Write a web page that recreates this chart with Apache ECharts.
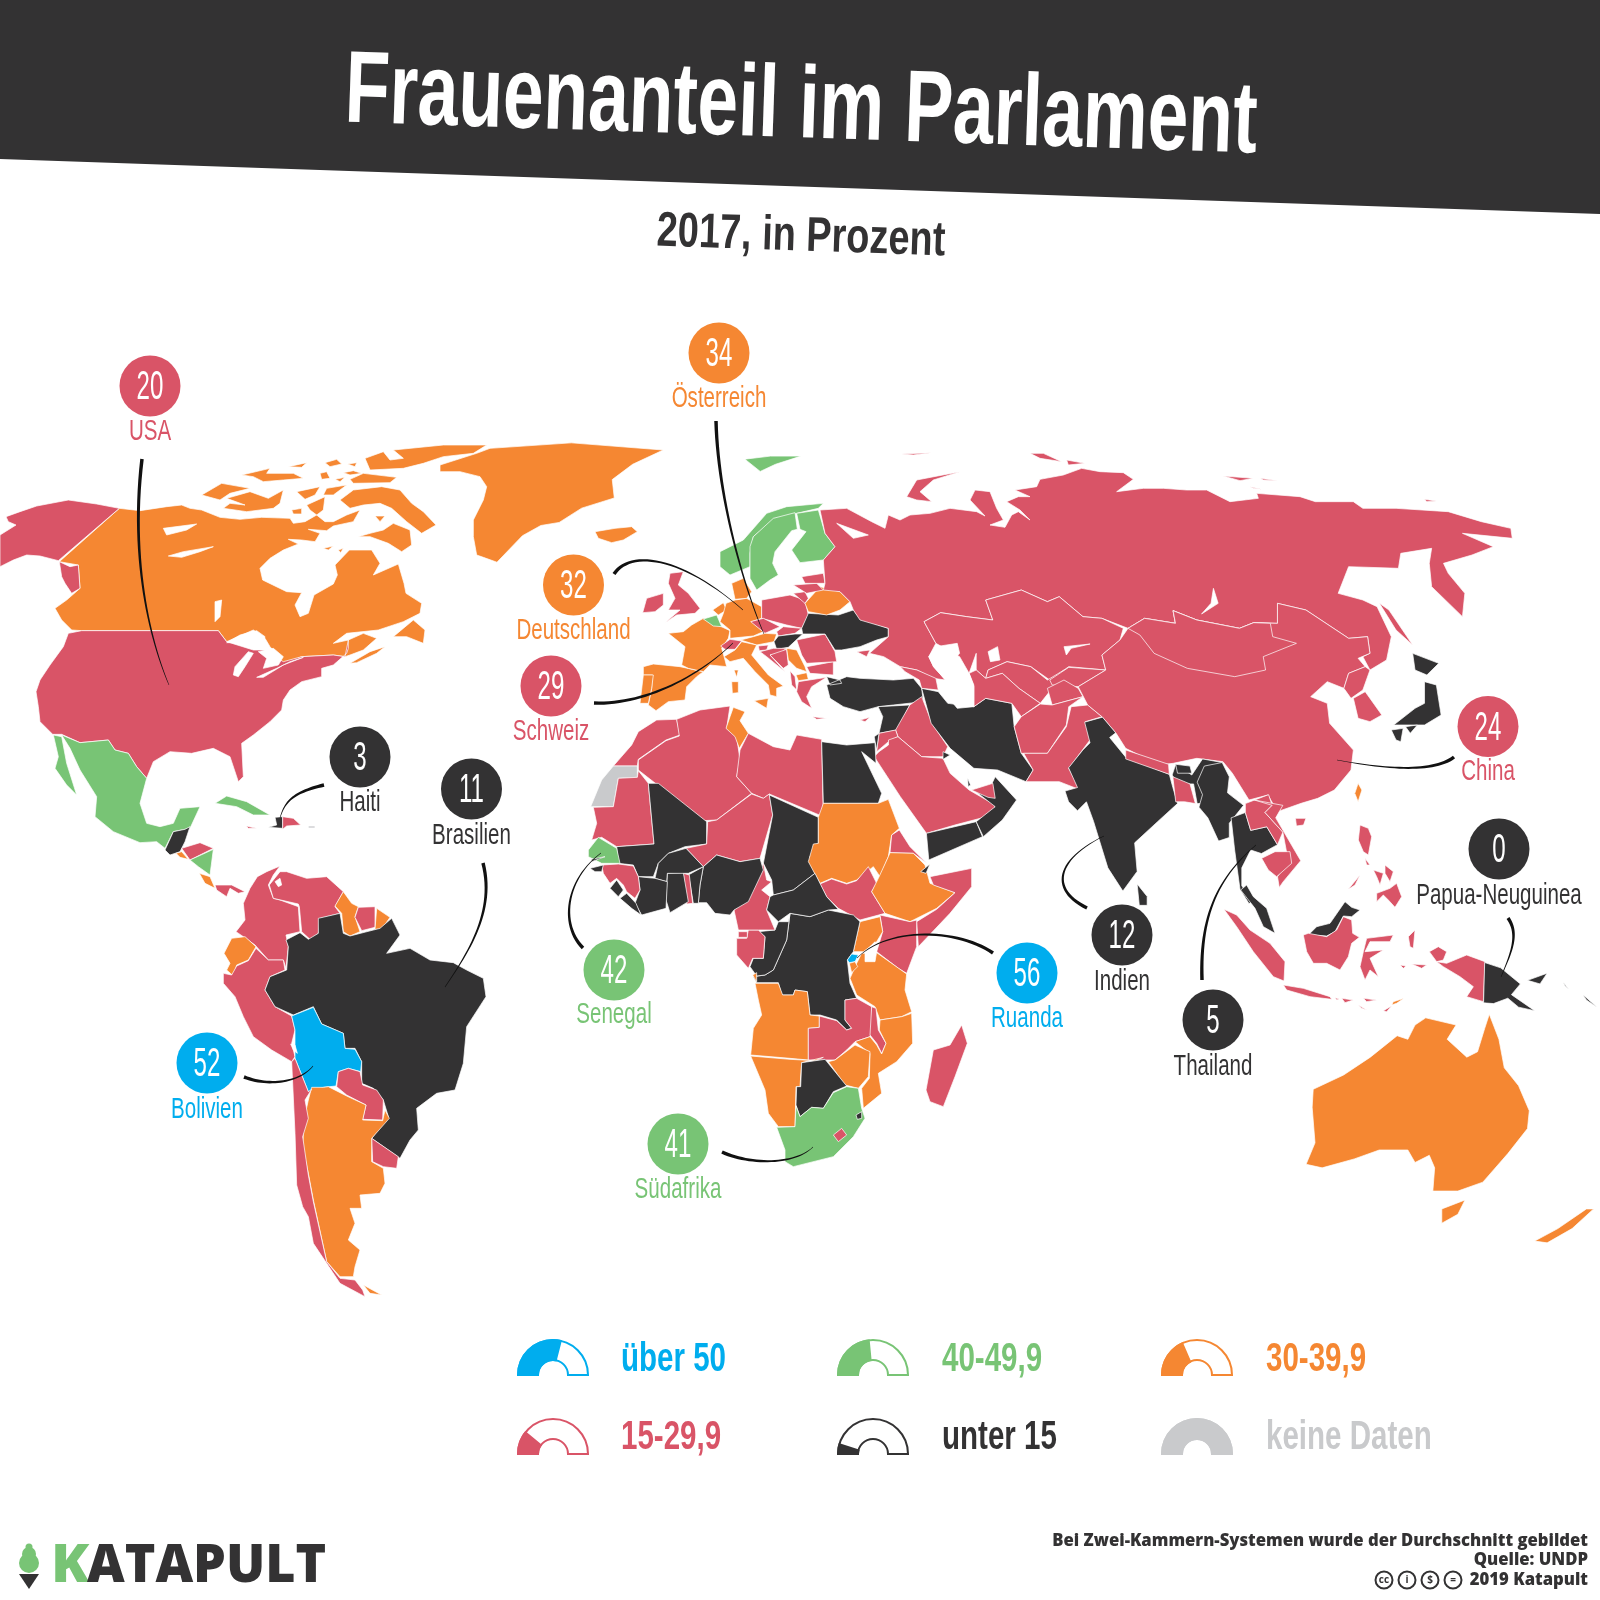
<!DOCTYPE html>
<html>
<head>
<meta charset="utf-8">
<title>Frauenanteil im Parlament</title>
<script src="https://cdn.jsdelivr.net/npm/echarts@6/dist/echarts.min.js"></script>
<style>
html, body { margin: 0; padding: 0; background: #fff; overflow: hidden; }
#main { width: 1600px; height: 1600px; }
</style>
</head>
<body>
<div id="main"></div>
<script>
// women in parliament, one value per country (estimated inside the colour band where no number is printed)
var countryNames = ['Canada','USA','Greenland','Iceland','Mexico','Guatemala','Honduras','El Salvador','Nicaragua','Costa Rica','Panama','Cuba','Haiti','Dominican Rep.','Jamaica','Puerto Rico',
    'Colombia','Venezuela','Guyana','Suriname','French Guiana','Ecuador','Peru','Brazil','Bolivia','Paraguay','Uruguay','Argentina','Chile',
    'Spain','Portugal','France','UK','Ireland','Belgium','Netherlands','Germany','Denmark','Poland','Czechia','Slovakia','Austria','Switzerland','Italy','Hungary','Slovenia','Croatia','Bosnia','Serbia','Macedonia','Albania','Bulgaria','Romania','Moldova','Greece','Ukraine','Belarus','Lithuania','Latvia','Estonia','Norway','Sweden','Finland'];
var countryValues = [35,20,37,38,42,13,26,32,46,36,18,49,3,24,17,-1,
    19,22,32,26,39,38,28,11,52,16,20,39,16,
    39,35,39,29,22,40,36,32,37,28,20,20,34,29,31,10,20,18,21,34,38,28,24,21,23,18,12,35,21,18,27,41,44,42];
var countryNames2 = ['Russia','Turkey','Syria','Iraq','Jordan','Israel','Iran','Saudi Arabia','Yemen','Oman','UAE','Qatar','Kuwait','Cyprus','Caucasus','Kazakhstan','Uzbekistan','Turkmenistan','Kyrgyzstan','Tajikistan','Afghanistan','Pakistan','India','Nepal','Bangladesh','Bhutan','Sri Lanka','China','Mongolia','North Korea','South Korea','Japan','Taiwan','Myanmar','Thailand','Laos','Vietnam','Cambodia','Malaysia','Indonesia','Timor-Leste','Philippines','PNG','Solomon Islands','Australia','New Zealand'];
var countryValues2 = [16,14,13,25,15,0,6,20,0,1,23,0,2,18,19,27,16,25,19,19,28,20,12,29,20,8,5,24,17,16,17,9,38,10,5,28,27,20,10,20,38,29,0,2,33,38];
var countryNames3 = ['Morocco','Western Sahara','Algeria','Tunisia','Libya','Egypt','Mauritania','Mali','Niger','Chad','Sudan','South Sudan','Eritrea','Ethiopia','Djibouti','Somalia','Kenya','Uganda','Rwanda','Burundi','Tanzania','DR Congo','Congo','Gabon','Eq. Guinea','Cameroon','Nigeria','Benin','Togo','Ghana','Burkina Faso','Ivory Coast','Sierra Leone','Liberia','Guinea','Guinea-Bissau','Senegal','Gambia','CAR','Angola','Zambia','Malawi','Mozambique','Zimbabwe','Namibia','Botswana','South Africa','Swaziland','Lesotho','Madagascar'];
var countryValues3 = [18,-1,26,31,16,2,25,9,17,13,31,28,22,38,13,24,20,34,56,36,36,9,11,16,18,27,6,7,17,13,9,9,12,11,22,14,42,9,9,37,18,17,39,32,37,10,41,6,25,20];

// numbered callouts
var calloutNames = ['USA','Österreich','Deutschland','Schweiz','Haiti','Brasilien','Bolivien','Senegal','Ruanda','Südafrika','Indien','Thailand','Papua-Neuguinea','China'];
var calloutValues = [20,34,32,29,3,11,52,42,56,41,12,5,0,24];

// legend
var legendLabels = ['über 50','40-49,9','30-39,9','15-29,9','unter 15','keine Daten'];
var legendShares = [0.58,0.47,0.37,0.22,0.1,1];

var footerLines = ['Bei Zwei-Kammern-Systemen wurde der Durchschnitt gebildet','Quelle: UNDP','2019 Katapult'];

var BLUE = '#00adee', GREEN = '#78c475', ORANGE = '#f58732', RED = '#d95467', DARK = '#333233', GREY = '#c9cacc';
var legendColors = [BLUE, GREEN, ORANGE, RED, DARK, GREY];
var NARROW = '"Liberation Sans", sans-serif';

function bandColor(v) {
    if (v < 0) return GREY;
    if (v >= 50) return BLUE;
    if (v >= 40) return GREEN;
    if (v >= 30) return ORANGE;
    if (v >= 15) return RED;
    return DARK;
}

var A = [0,420,3,3], B = [180,800,3,3], C = [560,480,3,3], D = [560,700,3,3], E = [860,440,2.108,3], F = [1040,700,2.8,2.8], I = [0,0,0.98,0.98];
var G = [190,440,3,3], H = [620,560,3,3], J = [900,440,3,3], K = [1220,820,3,3];
function t(f, pts) {
    return pts.map(function (p) { return [f[0] + p[0] / f[2], f[1] + p[1] / f[3]]; });
}

var outlines = {
    'Canada': [t(A,[[358,265],[420,272],[500,260],[545,255]]).concat(
            t(G,[[0,205],[35,210],[90,232],[150,238],[215,232],[300,235],[310,250],[345,245],[380,225],[405,245],[430,245],[470,225],[510,210],[490,245],[430,258],[410,272],[355,268],[390,280],[375,305],[335,300],[295,298],[325,312],[280,330],[240,355],[210,385],[218,420],[290,455],[335,458],[315,495],[330,530],[355,520],[372,465],[430,432],[442,405],[435,375],[478,330],[545,330],[570,370],[550,405],[625,372],[642,430],[648,460],[695,490],[690,520],[640,545],[565,570]]),
            t(A,[[1040,640],[1000,670],[1045,660],[1090,640],[1130,655],[1090,690],[1050,705],[1035,710],[1000,705],[905,710],[845,735],[780,772],[840,715],[810,680],[795,655],[760,630],[680,665],[655,632],[245,632],[215,630],[185,600],[165,565],[200,540],[240,505],[235,435],[178,425]])),
        t(G,[[35,165],[95,130],[180,145],[120,160],[90,180]]),
        t(G,[[100,205],[120,190],[165,195],[110,175],[180,155],[235,175],[280,150],[270,190],[250,205],[170,215]]),
        t(G,[[305,210],[335,205],[335,222],[310,222]]),
        t(G,[[320,155],[390,140],[375,165],[345,178]]),
        t(G,[[350,195],[405,170],[400,210],[380,225],[360,210]]),
        t(G,[[450,180],[490,150],[575,140],[630,150],[665,190],[700,215],[738,255],[695,280],[650,245],[605,205],[570,190],[520,195],[480,205]]),
        t(G,[[505,290],[540,280],[580,270],[610,250],[660,270],[665,315],[635,335],[595,310],[540,290]]),
        t(G,[[400,325],[430,318],[415,330]]), t(G,[[445,330],[460,325],[452,338]]), t(G,[[555,228],[585,228],[570,245]]),
        t(G,[[155,105],[240,85],[230,100],[310,100],[340,115],[280,120],[220,125],[190,110]]),
        t(G,[[295,80],[350,68],[335,82]]), t(G,[[405,68],[440,58],[455,72],[420,80]]), t(G,[[390,100],[410,95],[420,115],[395,118]]),
        t(G,[[435,118],[465,112],[450,125]]), t(G,[[460,98],[490,92],[515,100],[480,105]]), t(G,[[480,118],[520,100],[620,112],[600,128],[490,130]]),
        t(G,[[473,72],[500,68],[495,80]]), t(G,[[410,145],[470,135],[430,165],[400,165]]),
        t(G,[[525,55],[580,35],[600,60],[640,55],[610,30],[760,15],[890,15],[850,40],[760,50],[700,70],[640,85],[540,90]]),
        t(A,[[1180,650],[1240,600],[1275,630],[1270,670],[1220,650]]),
        t(A,[[1050,730],[1110,695],[1155,680],[1130,700],[1070,728]])],
    'USA': [t(A,[[18,290],[60,275],[110,258],[205,240],[290,252],[358,265],[175,422],[120,408],[80,405],[40,420],[0,440],[0,345],[48,315],[25,305]]),
        t(A,[[178,425],[210,440],[235,435],[240,505],[215,520],[195,490],[185,470]]),
        t(A,[[245,632],[655,632],[680,665],[760,690],[790,690],[850,725],[905,710],[1000,705],[1035,710],[1045,660],[1045,685],[1040,700],[1000,735],[965,745],[965,770],[905,785],[870,810],[850,840],[845,870],[810,905],[760,945],[725,970],[730,1070],[715,1085],[690,1010],[640,985],[575,1000],[510,995],[460,1025],[440,1075],[410,1040],[385,1000],[345,990],[325,960],[240,968],[185,943],[158,943],[120,905],[115,860],[108,815],[120,780],[150,735],[190,680],[205,640]])],
    'Greenland': [t(G,[[750,75],[860,40],[900,25]]).concat(
            t(I,[[560,434],[650,441],[620,455],[600,470],[602,488],[570,498],[548,512],[530,515],[512,525],[487,551]]),
            t(G,[[880,352],[860,345],[850,290],[850,240],[880,180],[890,140],[870,110],[810,95],[750,95]]))],
    'Iceland': [t(C,[[105,155],[135,150],[165,145],[215,140],[232,155],[190,180],[155,188],[115,175]])],
    'Mexico': [t(A,[[160,945],[185,950],[200,1030],[230,1125],[200,1095],[165,1045],[175,1010]]),
        t(A,[[185,945],[240,968],[325,960],[345,990],[385,1000],[410,1040],[440,1075],[420,1150],[440,1210],[480,1220],[520,1210],[540,1165],[600,1160],[570,1225],[520,1235],[495,1285],[470,1265],[420,1268],[340,1235],[285,1190],[290,1130],[240,1050],[210,985]])],
    'Guatemala': [t(A,[[520,1235],[555,1228],[570,1220],[555,1265],[540,1295],[510,1305],[495,1290]])],
    'Honduras': [t(A,[[545,1285],[600,1268],[640,1285],[570,1320]])],
    'El Salvador': [t(A,[[528,1300],[545,1295],[565,1318],[540,1312]])],
    'Nicaragua': [t(A,[[570,1320],[640,1288],[630,1365],[595,1340]])],
    'Costa Rica': [t(A,[[598,1360],[630,1370],[645,1405],[615,1390]])],
    'Panama': [t(A,[[645,1395],[695,1395],[735,1415],[715,1420],[690,1405],[680,1430],[650,1410]])],
    'Cuba': [t(A,[[645,1150],[680,1128],[740,1145],[810,1185],[760,1185],[710,1160]])],
    'Haiti': [t(A,[[825,1192],[848,1190],[848,1225],[805,1222],[830,1215]])],
    'Dominican Rep.': [t(A,[[848,1190],[880,1195],[902,1215],[860,1218],[848,1228]])],
    'Jamaica': [t(A,[[738,1218],[770,1225],[745,1225]])],
    'Puerto Rico': [t(A,[[925,1218],[945,1218],[945,1224],[925,1224]])],

    'Colombia': [t(B,[[300,198],[260,215],[232,230],[210,265],[190,310],[195,360],[168,395],[190,410],[225,435],[265,480],[310,480],[318,505],[325,440],[318,405],[360,395],[355,320],[300,300],[280,295],[265,255],[280,225]])],
    'Venezuela': [t(B,[[300,215],[320,215],[380,235],[440,230],[490,275],[465,320],[480,340],[420,355],[415,400],[390,418],[365,395],[358,320],[355,312],[280,295],[268,255]])],
    'Guyana': [t(B,[[490,275],[515,310],[535,320],[525,350],[540,395],[510,408],[490,395],[485,340],[465,318]])],
    'Suriname': [t(B,[[535,322],[585,320],[585,382],[545,392],[525,352]])],
    'French Guiana': [t(B,[[590,325],[630,352],[605,388],[585,388]])],
    'Ecuador': [t(B,[[155,415],[195,410],[228,440],[205,480],[170,495],[160,528],[140,510],[150,490],[132,460]])],
    'Peru': [t(B,[[130,520],[155,525],[170,498],[205,482],[228,445],[265,480],[310,480],[315,510],[270,530],[255,570],[285,620],[335,648],[345,690],[335,730],[345,770],[335,785],[275,750],[220,710],[190,650],[165,590],[130,550]])],
    'Brazil': [t(B,[[318,420],[360,398],[385,418],[415,400],[415,355],[480,340],[490,400],[510,408],[600,385],[635,355],[660,405],[620,460],[690,445],[750,480],[820,488],[860,510],[910,535],[918,590],[860,680],[850,790],[825,870],[770,880],[710,925],[715,990],[690,1020],[660,1075],[575,1015],[625,950],[610,900],[580,865],[545,850],[545,785],[525,745],[495,745],[490,700],[425,672],[400,620],[340,645],[285,620],[255,570],[270,530],[320,510],[325,440]])],
    'Bolivia': [t(B,[[335,648],[400,622],[425,672],[490,700],[495,745],[525,748],[545,785],[542,815],[505,805],[475,815],[468,858],[430,862],[385,875],[345,775],[345,690]])],
    'Paraguay': [t(B,[[475,815],[505,805],[540,815],[548,855],[590,870],[610,900],[608,960],[548,958],[558,915],[500,885],[470,860]])],
    'Uruguay': [t(B,[[575,1015],[655,1070],[650,1105],[610,1100],[578,1085]])],
    'Argentina': [t(B,[[395,862],[430,862],[445,860],[500,888],[558,915],[548,960],[608,962],[615,930],[628,955],[575,1015],[575,1085],[610,1105],[615,1150],[600,1180],[540,1185],[545,1225],[510,1225],[525,1270],[505,1320],[540,1350],[525,1400],[520,1430],[480,1430],[440,1385],[400,1200],[385,1120],[368,1040],[372,960],[385,900]]),
        t(B,[[550,1455],[605,1485],[570,1480]])],
    'Chile': [t(B,[[335,785],[345,775],[385,875],[395,868],[375,900],[385,955],[368,1010],[385,1125],[400,1205],[440,1385],[480,1435],[525,1440],[548,1470],[555,1490],[480,1450],[400,1330],[385,1250],[368,1220],[350,1155],[345,1000]])],

    'Spain': [t(H,[[70,320],[100,312],[180,320],[250,335],[230,350],[200,380],[195,420],[145,425],[108,452],[85,435],[95,385],[98,345],[70,345]])],
    'Portugal': [t(H,[[70,345],[100,345],[95,385],[85,430],[60,430]])],
    'France': [t(H,[[145,220],[190,215],[215,195],[250,175],[330,212],[325,235],[305,265],[315,300],[320,320],[270,315],[250,335],[205,325],[185,315],[195,260]]), t(H,[[342,330],[355,330],[350,352]])],
    'UK': [t(H,[[150,40],[190,35],[175,75],[205,100],[240,145],[225,160],[170,165],[135,188],[180,150],[145,150],[165,115],[145,70]])],
    'Ireland': [t(H,[[68,158],[80,115],[130,100],[130,135],[105,155]])],
    'Belgium': [t(H,[[250,177],[290,165],[305,200],[280,198]])],
    'Netherlands': [t(H,[[278,150],[310,128],[320,150],[295,165]])],
    'Germany': [t(H,[[318,130],[345,120],[380,115],[425,140],[425,175],[395,185],[430,215],[400,228],[330,235],[330,210],[300,185],[310,160]])],
    'Denmark': [t(H,[[335,70],[370,55],[395,95],[380,115],[345,118]])],
    'Poland': [t(H,[[425,120],[510,105],[555,120],[565,165],[545,205],[500,195],[425,175]])],
    'Czechia': [t(H,[[392,185],[430,175],[480,200],[435,220]])],
    'Slovakia': [t(H,[[470,215],[490,200],[545,205],[525,220],[475,228]])],
    'Austria': [t(H,[[362,240],[400,230],[435,220],[470,222],[462,245],[410,255]])],
    'Switzerland': [t(H,[[302,258],[330,238],[365,243],[345,268],[315,268]])],
    'Italy': [t(H,[[312,290],[345,270],[365,245],[410,255],[395,285],[445,345],[490,378],[470,385],[470,410],[450,405],[445,375],[405,335],[370,295],[330,305]]), t(H,[[402,422],[445,415],[440,445]]), t(H,[[335,365],[355,365],[355,398],[337,400]])],
    'Hungary': [t(H,[[462,245],[475,228],[525,222],[548,222],[505,262],[470,268]])],
    'Slovenia': [t(H,[[415,258],[445,255],[440,270],[418,272]])],
    'Croatia': [t(H,[[420,275],[460,265],[500,265],[480,280],[450,285],[495,335],[440,290]])],
    'Bosnia': [t(H,[[450,285],[500,268],[505,315],[490,325]])],
    'Serbia': [t(H,[[500,265],[530,270],[555,320],[560,335],[530,325],[505,300]])],
    'Macedonia': [t(H,[[528,345],[560,338],[565,358],[535,362]])],
    'Albania': [t(H,[[510,332],[525,350],[530,390],[515,375]])],
    'Bulgaria': [t(H,[[560,320],[640,305],[640,345],[570,340]])],
    'Romania': [t(H,[[530,240],[615,222],[645,275],[650,305],[560,310],[545,285]])],
    'Moldova': [t(H,[[615,222],[650,250],[655,270],[640,260]])],
    'Greece': [t(H,[[535,365],[620,352],[575,380],[560,410],[575,445],[545,425],[530,395]]), t(H,[[578,470],[620,475],[590,478]])],
    'Ukraine': [t(H,[[565,160],[655,165],[700,150],[720,175],[805,205],[805,230],[770,240],[720,260],[665,270],[645,270],[615,222],[548,222],[545,205]])],
    'Belarus': [t(H,[[555,130],[600,80],[660,95],[690,125],[660,150],[620,165],[565,155]])],
    'Lithuania': [t(H,[[520,100],[555,95],[565,115],[555,130]])],
    'Latvia': [t(H,[[520,75],[590,70],[610,90],[560,100]])],
    'Estonia': [t(H,[[545,50],[610,40],[615,70],[555,70]])],
    'Norway': [t(C,[[480,215],[550,180],[620,100],[680,80],[790,70],[775,85],[710,100],[640,120],[580,170],[570,220],[570,260],[510,285],[480,260]]), t(I,[[730,450],[755,447],[785,447],[760,455],[745,462]])],
    'Sweden': [t(C,[[570,200],[580,170],[640,115],[705,98],[712,148],[695,152],[645,215],[638,250],[655,285],[630,300],[590,330],[570,295]])],
    'Finland': [t(C,[[710,100],[775,90],[795,160],[825,200],[790,240],[720,248],[695,210],[738,155],[720,148]])],

    'Russia': [t(C,[[780,90],[860,85],[935,125],[975,145],[985,105]]).concat(
            t(J,[[0,240],[30,225],[90,220],[150,205],[230,215],[255,228],[210,180],[225,150],[270,155],[290,205],[310,240],[270,255],[315,262],[335,225],[355,215],[390,240],[360,210],[320,185],[355,170],[390,170],[345,150],[410,140],[420,118],[490,105],[545,85],[600,95],[670,98],[700,118],[650,155],[730,145],[790,145],[860,150],[920,150],[990,185],[1075,175],[1070,160],[1200,170]]),
            t(E,[[960,185],[1040,185],[1060,205],[1130,205],[1240,215],[1310,245],[1372,265],[1375,295],[1270,280],[1335,320],[1290,345],[1230,370],[1240,400],[1275,460],[1270,530],[1205,440],[1200,370],[1205,325],[1140,340],[1135,385],[1030,380],[1008,460],[1060,480],[1090,500],[1120,590],[1110,660],[1075,690],[1060,650],[1075,640],[1070,590],[1030,595],[940,510],[880,490],[880,550],[830,548],[800,565],[710,540],[660,512],[665,550],[600,535],[565,565],[510,535],[470,530],[420,470],[395,485],[340,450],[265,480],[280,540],[225,530],[170,518],[135,545],[160,610],[145,650],[155,680],[180,720],[155,715],[120,690],[85,680],[50,650],[20,640]]),
            t(C,[[985,470],[985,445],[900,420],[880,390],[870,365],[840,335],[790,330],[795,310],[790,240],[825,200],[795,160]])),
        t(J,[[20,170],[50,120],[180,95],[100,120],[60,155],[95,185],[50,180]]), t(J,[[390,40],[430,40],[485,65],[420,55]]), t(J,[[500,60],[555,70],[505,75]]),
        t(J,[[970,108],[1060,115],[1020,122]]), t(J,[[1050,140],[1085,148],[1060,145]]), t(J,[[1080,115],[1135,122],[1090,120]]), t(J,[[5,42],[95,38],[40,45]]),
        t(E,[[1190,178],[1215,183],[1195,185]]),
        t(E,[[1095,490],[1115,510],[1165,615],[1130,570]]), t(C,[[890,515],[930,510],[920,530]])],
    'Turkey': [t(C,[[800,590],[840,600],[845,610],[810,615]]), t(C,[[800,615],[860,590],[900,595],[1000,600],[1060,595],[1085,625],[1090,665],[1000,675],[955,680],[900,695],[850,680],[810,655]])],
    'Syria': [t(E,[[38,800],[105,795],[78,870],[40,880],[48,830]])],
    'Iraq': [t(E,[[105,795],[130,770],[152,850],[185,920],[175,950],[130,950],[80,890],[75,870]])],
    'Jordan': [t(E,[[40,880],[75,870],[80,890],[60,905],[35,935]])],
    'Israel': [t(E,[[30,890],[40,880],[35,930]])],
    'Iran': [t(E,[[130,745],[165,755],[185,790],[240,800],[265,775],[320,790],[325,860],[340,940],[365,990],[350,1025],[290,990],[240,985],[190,925],[150,850]])],
    'Saudi Arabia': [t(E,[[60,900],[80,890],[130,950],[175,955],[190,1000],[230,1050],[285,1095],[280,1125],[200,1155],[140,1180],[85,1070],[30,950],[40,935],[60,915]])],
    'Yemen': [t(E,[[140,1180],[245,1145],[258,1190],[145,1260]])],
    'Oman': [t(E,[[285,1010],[330,1080],[300,1140],[260,1190],[245,1145],[285,1100],[240,1050],[275,1040]])],
    'UAE': [t(E,[[235,1050],[280,1030],[285,1075],[270,1072]])],
    'Qatar': [t(E,[[227,1015],[233,1035],[228,1040]])],
    'Kuwait': [t(E,[[175,935],[190,945],[175,958]])],
    'Cyprus': [t(C,[[900,720],[930,712],[915,725]])],
    'Caucasus': [t(E,[[85,680],[120,690],[160,715],[165,750],[130,745],[125,720],[95,695]])],
    'Kazakhstan': [t(E,[[135,545],[170,518],[225,530],[280,540],[265,480],[340,450],[395,485],[420,470],[470,530],[510,535],[555,565],[548,600],[510,645],[518,690],[440,680],[400,720],[360,680],[310,665],[270,690],[265,715],[245,690],[245,640],[230,700],[210,650],[160,610]])],
    'Uzbekistan': [t(E,[[265,715],[270,690],[310,665],[360,680],[395,720],[430,690],[405,745],[380,790],[335,745],[300,700]])],
    'Turkmenistan': [t(E,[[230,700],[245,690],[265,715],[300,700],[335,745],[380,790],[340,830],[320,790],[265,775],[240,800],[240,740]])],
    'Kyrgyzstan': [t(E,[[400,720],[440,682],[518,690],[460,740],[405,735]])],
    'Tajikistan': [t(E,[[395,745],[430,720],[460,745],[470,770],[405,795]])],
    'Afghanistan': [t(E,[[340,830],[380,792],[405,795],[470,770],[440,800],[435,855],[395,940],[340,940],[325,860]])],
    'Pakistan': [t(E,[[345,940],[395,940],[435,860],[445,800],[480,795],[510,830],[475,845],[490,890],[440,985],[465,1050],[420,1025],[350,1025],[365,990]])],
    'China': [t(E,[[565,565],[600,535],[665,550],[660,512],[710,540],[800,565],[830,548],[880,550],[880,490],[940,510],[1030,595],[1070,590],[1075,640],[1050,655],[1065,680],[1030,700],[1020,745],[985,725],[950,770],[985,790],[990,850],[1040,930],[1035,990],[1000,1050],[965,1075],[930,1090],[880,1115],[860,1065],[820,1080],[785,1000],[765,965],[710,955],[660,970],[630,975],[560,925],[540,880],[510,830],[480,795],[460,740],[518,690],[510,645],[548,600]]), t(E,[[918,1135],[940,1135],[935,1155],[920,1158]])],
    'Mongolia': [t(E,[[565,565],[600,535],[665,550],[660,512],[710,540],[800,565],[830,548],[865,550],[870,590],[920,610],[850,650],[855,690],[790,710],[690,685],[620,640],[590,585]])],
    'India': [t(F,[[125,62],[175,48],[212,92],[195,105],[240,160],[362,208],[372,245],[385,290],[330,340],[265,400],[272,480],[232,535],[190,470],[150,340],[130,285],[105,310],[80,285],[70,255],[105,245],[80,190],[120,140],[140,120]]), t(F,[[380,180],[425,210],[455,165],[510,175],[525,215],[490,215],[460,290],[440,290],[430,235],[385,235],[370,210]])],
    'Nepal': [t(F,[[240,140],[360,180],[362,208],[240,165]])],
    'Bangladesh': [t(F,[[372,215],[420,235],[435,290],[405,285],[380,285]])],
    'Bhutan': [t(F,[[380,180],[420,185],[425,205],[385,205]])],
    'Sri Lanka': [t(F,[[272,515],[300,550],[300,575],[278,575]])],
    'North Korea': [t(E,[[1030,700],[1065,680],[1075,690],[1060,750],[1035,775],[1020,745]])],
    'South Korea': [t(E,[[1040,775],[1065,755],[1100,825],[1075,845],[1050,835]])],
    'Japan': [t(E,[[1165,640],[1220,670],[1195,705],[1170,690]]), t(E,[[1190,725],[1215,735],[1225,825],[1190,855],[1125,855],[1170,805],[1190,790]]), t(E,[[1120,870],[1145,865],[1140,905],[1130,900]]), t(E,[[1150,860],[1175,855],[1160,880]])],
    'Taiwan': [t(E,[[1050,1030],[1058,1050],[1050,1085],[1043,1060]])],
    'Myanmar': [t(F,[[460,185],[510,175],[530,215],[525,260],[570,295],[530,345],[530,385],[500,395],[470,330],[445,300],[455,265],[440,230]])],
    'Thailand': [t(F,[[535,330],[575,315],[590,365],[635,355],[665,405],[620,430],[590,420],[565,470],[565,520],[595,565],[585,570],[560,530],[545,420]])],
    'Laos': [t(F,[[575,290],[640,265],[650,295],[630,315],[680,370],[665,405],[635,355],[590,365],[575,315]])],
    'Vietnam': [t(F,[[600,280],[680,295],[660,330],[730,450],[680,510],[670,525],[665,495],[695,450],[680,370],[630,315],[650,295]])],
    'Cambodia': [t(K,[[125,115],[165,95],[210,95],[215,130],[170,170],[145,150]])],
    'Malaysia': [t(K,[[62,210],[80,195],[100,230],[140,265],[165,340],[130,320],[105,265]]), t(K,[[265,345],[290,320],[330,310],[375,245],[395,262],[420,270],[395,290],[370,288],[345,335],[320,348]])],
    'Indonesia': [t(K,[[250,345],[265,340],[320,350],[350,330],[370,290],[395,300],[398,340],[418,352],[395,370],[385,410],[360,450],[320,430],[280,430],[260,395]]),
        t(K,[[12,268],[50,285],[90,330],[150,370],[195,425],[192,483],[160,470],[100,395],[50,320]]),
        t(K,[[190,495],[250,505],[330,530],[335,538],[270,530],[200,510]]),
        t(K,[[345,533],[358,537],[350,540]]), t(K,[[365,535],[400,540],[375,548]]), t(K,[[430,535],[470,540],[440,545]]), t(K,[[415,555],[440,570],[425,565]]), t(K,[[490,572],[515,558],[500,575]]),
        t(K,[[440,355],[520,345],[510,365],[450,365],[435,395],[490,390],[450,415],[475,470],[450,450],[435,480],[420,440],[430,395]]),
        t(K,[[565,350],[585,330],[580,385],[570,380]]), t(K,[[540,435],[558,438],[550,445]]), t(K,[[575,432],[620,435],[605,445]]),
        t(K,[[628,395],[655,380],[680,395],[670,420],[650,425]]),
        t(K,[[650,425],[680,430],[740,405],[795,425],[790,545],[740,530],[760,500],[720,470],[670,440]])],
    'Timor-Leste': [t(K,[[515,555],[520,545],[552,535],[530,550]])],
    'Philippines': [t(K,[[420,15],[445,25],[455,50],[445,105],[430,95],[415,60]]), t(K,[[460,150],[490,160],[480,195],[470,170]]), t(K,[[495,135],[520,155],[510,185],[495,160]]), t(K,[[435,115],[450,135],[440,135]]), t(K,[[470,220],[510,205],[530,190],[545,230],[525,262],[505,240],[490,225],[470,245]]), t(K,[[385,208],[420,165],[405,195]])],
    'PNG': [t(F,[[1245,735],[1290,750],[1345,795],[1320,825],[1385,870],[1340,860],[1310,835],[1270,850],[1242,848]]), t(F,[[1365,785],[1420,765],[1400,795]])],
    'Solomon Islands': [t(F,[[1465,790],[1480,810],[1470,800]]), t(F,[[1520,825],[1560,860],[1530,840]])],
    'Australia': [t(F,[[765,1090],[850,1050],[925,1000],[1000,940],[1030,950],[1050,910],[1080,890],[1165,910],[1140,950],[1195,1000],[1225,985],[1245,920],[1258,880],[1285,950],[1300,1030],[1340,1080],[1370,1150],[1365,1200],[1310,1270],[1240,1350],[1170,1375],[1100,1375],[1105,1310],[1090,1275],[1050,1295],[1030,1260],[950,1260],[880,1285],[790,1310],[745,1300],[770,1240],[762,1140]]), t(F,[[1125,1425],[1190,1400],[1170,1440],[1125,1465]])],
    'New Zealand': [t(F,[[1385,1515],[1450,1480],[1530,1425],[1550,1425],[1490,1480],[1420,1520]])],

    'Morocco': [t(D,[[290,60],[350,58],[360,105],[318,120],[235,178],[232,198],[160,198],[215,135],[235,95]])],
    'Western Sahara': [t(D,[[160,198],[232,198],[232,232],[175,235],[160,320],[92,320],[125,240]])],
    'Algeria': [t(D,[[350,58],[420,30],[510,18],[500,85],[530,110],[540,180],[530,230],[575,280],[470,360],[430,362],[235,210],[235,180],[318,122],[358,108]])],
    'Tunisia': [t(D,[[520,22],[555,35],[540,62],[565,100],[538,145],[525,110],[498,85],[510,50]])],
    'Libya': [t(D,[[565,100],[640,140],[690,150],[710,105],[785,118],[790,350],[628,282],[610,295],[575,280],[530,230],[540,150]])],
    'Egypt': [t(D,[[785,125],[860,135],[945,128],[948,190],[905,155],[965,280],[955,310],[790,310]])],
    'Mauritania': [t(D,[[100,322],[160,320],[175,235],[232,232],[235,212],[265,250],[282,432],[170,440],[125,412],[95,420],[110,370]])],
    'Mali': [t(D,[[265,250],[295,250],[440,365],[440,432],[375,440],[325,460],[295,490],[280,530],[235,530],[220,495],[175,490],[170,440],[282,432]])],
    'Niger': [t(D,[[470,360],[575,282],[610,295],[628,282],[638,345],[600,475],[540,485],[470,465],[430,500],[378,445],[440,432],[443,365]])],
    'Chad': [t(D,[[628,285],[775,352],[775,432],[750,470],[765,520],[700,570],[640,585],[635,540],[610,490],[638,345]])],
    'Sudan': [t(D,[[790,310],[955,310],[985,298],[1018,385],[995,405],[985,470],[960,530],[940,500],[890,540],[860,550],[815,535],[780,550],[745,485],[760,432],[775,430],[775,352]])],
    'South Sudan': [t(D,[[780,552],[815,537],[860,552],[890,542],[925,500],[950,550],[935,575],[975,640],[900,660],[835,625],[800,590]])],
    'Eritrea': [t(D,[[995,405],[1018,390],[1050,440],[1100,490],[1060,460],[990,458]])],
    'Ethiopia': [t(D,[[985,470],[990,458],[1060,460],[1095,495],[1110,550],[1185,578],[1130,625],[1050,665],[975,640],[935,575],[955,535]])],
    'Djibouti': [t(D,[[1082,515],[1110,492],[1098,520]])],
    'Somalia': [t(D,[[1110,530],[1235,505],[1235,560],[1170,640],[1075,740],[1070,665],[1130,628],[1185,578],[1120,555]])],
    'Kenya': [t(D,[[960,645],[1050,665],[1070,660],[1070,740],[1040,820],[1015,805],[950,755],[968,695]])],
    'Uganda': [t(D,[[900,665],[960,650],[968,695],[950,725],[910,755],[880,755]])],
    'Tanzania': [t(D,[[950,758],[1040,822],[1035,870],[1055,935],[1025,950],[960,960],[945,920],[890,885],[870,835],[890,790],[905,760]])],
    'DR Congo': [t(D,[[690,640],[750,650],[805,630],[880,645],[900,665],[880,755],[862,780],[870,850],[890,895],[855,900],[855,960],[875,985],[860,990],[830,960],[780,945],[750,945],[742,875],[705,870],[700,885],[665,885],[655,848],[590,848],[580,830],[615,825],[640,810],[680,720]])],
    'Rwanda': [t(D,[[862,780],[875,762],[895,765],[885,785],[868,788]])],
    'Burundi': [t(D,[[868,790],[885,785],[893,800],[875,818]])],
    'Congo': [t(D,[[690,640],[680,720],[640,810],[615,825],[590,828],[570,800],[580,775],[610,775],[615,710],[595,695],[645,690],[655,665],[685,665]])],
    'Gabon': [t(D,[[530,715],[560,715],[565,690],[595,690],[615,710],[610,775],[578,775],[565,805],[530,765]])],
    'Eq. Guinea': [t(D,[[535,695],[562,695],[562,712],[535,712]])],
    'Cameroon': [t(D,[[610,490],[620,540],[635,545],[605,570],[630,590],[620,630],[645,690],[595,690],[535,690],[522,630],[560,600]])],
    'Nigeria': [t(D,[[430,500],[470,465],[540,485],[600,475],[610,510],[565,605],[522,630],[510,645],[465,640],[440,608],[415,608],[420,555]])],
    'Benin': [t(D,[[385,525],[430,500],[420,555],[415,610],[400,610],[390,550]])],
    'Togo': [t(D,[[370,520],[388,525],[398,610],[380,612]])],
    'Ghana': [t(D,[[322,520],[370,518],[385,605],[330,638],[318,600]])],
    'Burkina Faso': [t(D,[[378,445],[430,500],[385,520],[322,520],[320,545],[285,535],[295,490],[325,460]])],
    'Ivory Coast': [t(D,[[235,530],[285,535],[322,545],[318,625],[245,645],[225,610],[240,570]])],
    'Guinea': [t(D,[[125,495],[175,492],[220,498],[235,530],[240,570],[225,595],[200,575],[190,555],[170,535],[150,550],[130,520]])],
    'Sierra Leone': [t(D,[[150,565],[170,540],[190,570],[175,590]])],
    'Liberia': [t(D,[[180,595],[200,580],[228,610],[243,645],[215,625]])],
    'Guinea-Bissau': [t(D,[[90,505],[130,495],[125,515],[105,515]])],
    'Senegal': [t(D,[[85,450],[115,412],[170,445],[180,490],[125,490],[95,475],[85,470]])],
    'Gambia': [t(D,[[95,478],[135,470],[95,485]])],
    'CAR': [t(D,[[640,585],[700,570],[765,520],[800,590],[835,628],[805,630],[750,650],[690,640],[655,665],[620,630],[630,590]])],
    'Angola': [t(D,[[585,850],[655,850],[668,885],[700,885],[705,870],[742,875],[750,945],[778,948],[778,982],[745,985],[745,1080],[690,1075],[572,1065],[580,985],[605,945],[595,900]]), t(D,[[578,825],[590,818],[590,845]])],
    'Zambia': [t(D,[[778,948],[830,962],[860,990],[875,985],[855,960],[855,900],[890,895],[935,920],[938,975],[930,1010],[885,1025],[860,1050],[825,1080],[745,1080],[745,985],[778,982]])],
    'Malawi': [t(D,[[935,920],[948,925],[955,990],[978,1030],[965,1060],[950,1030],[930,1005]])],
    'Mozambique': [t(D,[[960,960],[1025,950],[1055,940],[1058,1030],[1010,1085],[955,1120],[965,1180],[910,1225],[905,1165],[928,1135],[930,1060],[885,1025],[930,1010],[950,1035],[965,1062],[978,1030],[958,990]])],
    'Zimbabwe': [t(D,[[885,1035],[930,1055],[925,1130],[895,1165],[855,1155],[805,1085],[825,1080]])],
    'Namibia': [t(D,[[572,1068],[690,1078],[765,1082],[790,1072],[725,1088],[720,1160],[708,1160],[705,1280],[655,1280],[625,1240],[615,1170]])],
    'Botswana': [t(D,[[725,1088],[795,1078],[860,1158],[820,1175],[790,1225],[755,1222],[720,1250],[708,1215],[710,1160],[722,1160]])],
    'South Africa': [t(D,[[650,1282],[705,1280],[708,1218],[720,1250],[755,1222],[790,1225],[820,1178],[860,1160],[895,1165],[905,1225],[915,1255],[880,1310],[820,1370],[700,1400],[675,1385],[675,1350]])],
    'Swaziland': [t(D,[[888,1245],[905,1235],[905,1255],[892,1258]])],
    'Lesotho': [t(D,[[820,1305],[845,1285],[860,1305],[835,1325]])],
    'Madagascar': [t(D,[[1120,1050],[1170,1035],[1205,975],[1222,1030],[1185,1130],[1150,1220],[1110,1205],[1098,1170]])],

    // water inside the land, stays white because it has no value
    'Superior': [t(A,[[680,668],[720,645],[770,632],[795,650],[790,672],[740,668]])],
    'Michigan': [t(A,[[700,765],[705,740],[745,695],[760,700],[735,740],[715,770]])],
    'Huron': [t(A,[[775,695],[820,685],[850,710],[835,735],[790,745],[800,715]])],
    'Erie': [t(A,[[770,772],[830,745],[870,725],[910,712],[850,735],[790,772]])],
    'Great Bear': [t(A,[[490,325],[590,312],[560,330],[500,345]])],
    'Great Slave': [t(A,[[505,408],[550,395],[640,380],[600,395],[545,412]])],
    'Winnipeg': [t(A,[[645,545],[665,540],[660,590],[645,605]])],
    'Maracaibo': [t(B,[[285,245],[300,235],[305,255],[295,260]])],
    'Titicaca': [t(B,[[332,732],[345,735],[352,760],[340,750]])],
    'Victoria': [t(D,[[915,755],[945,725],[950,755],[945,785],[915,785]])],
    'White Sea': [t(C,[[830,130],[925,165],[880,175]])],
    'Caspian': [t(E,[[145,650],[160,620],[205,610],[210,640],[185,680],[185,740],[230,700],[240,735],[240,800],[205,805],[185,770],[180,720],[155,680]])],
    'Aral': [t(E,[[270,635],[290,620],[295,660],[275,665]])],
    'Balkhash': [t(E,[[430,620],[485,612],[445,625],[435,645]])],
    'Baikal': [t(E,[[745,445],[755,490],[720,522],[740,490]])]
};

// callout layout, in picture pixels: bubble centre, label centre, then the pointer curve
var calloutPos = [[150,386,431],[719,353,398],[573.5,585,630],[551,686,731],[360,757,802],[471.5,789,835],[207,1063,1109],[614,970,1014],[1027,973,1018],[678,1144,1189],[1122,935,981],[1213,1020,1066],[1499,849,895],[1488,726.5,771]];
var calloutCurves = [
    [142,459,130,560,150,640,169,685],
    [716,421,718,500,745,590,764,634],
    [614,574,630,550,680,555,743,610],
    [594,703,640,705,695,680,733,643],
    [324,785,295,792,285,800,280,818],
    [483,863,495,910,470,950,445,987],
    [244,1077,270,1087,300,1082,313,1066],
    [583,948,560,925,565,880,601,853],
    [993,953,960,930,890,925,857,958],
    [722,1152,750,1165,795,1165,813,1147],
    [1087,908,1050,890,1055,860,1104,836],
    [1202,980,1200,920,1215,880,1256,845],
    [1508,918,1520,935,1510,955,1501,977],
    [1454,757,1435,772,1390,770,1337,760]
];

var features = [];
Object.keys(outlines).forEach(function (name) {
    features.push({
        type: 'Feature',
        properties: { name: name },
        geometry: { type: 'MultiPolygon', coordinates: outlines[name].map(function (ring) { return [ring.concat([ring[0]])]; }) }
    });
});
echarts.registerMap('world', { type: 'FeatureCollection', features: features });

var allValues = countryValues.concat(countryValues2, countryValues3);
var mapData = countryNames.concat(countryNames2, countryNames3).map(function (name, i) {
    return { name: name, value: allValues[i] };
});

function label(text, x, y, opt) {
    opt = opt || {};
    return {
        type: 'text', x: x, y: y, rotation: opt.rotation || 0, scaleX: opt.sx || 1, scaleY: opt.sy || 1, z: 20,
        style: { text: text, fill: opt.color || DARK, font: opt.font, textAlign: opt.align || 'center', textVerticalAlign: 'middle' }
    };
}

// thick at the bubble, thin at the country: the curve is walked and given a width on each side
function pointer(c) {
    var left = [], right = [], n = 28;
    for (var i = 0; i <= n; i++) {
        var u = i / n, v = 1 - u;
        var x = v*v*v*c[0] + 3*v*v*u*c[2] + 3*v*u*u*c[4] + u*u*u*c[6];
        var y = v*v*v*c[1] + 3*v*v*u*c[3] + 3*v*u*u*c[5] + u*u*u*c[7];
        var dx = 3*v*v*(c[2]-c[0]) + 6*v*u*(c[4]-c[2]) + 3*u*u*(c[6]-c[4]);
        var dy = 3*v*v*(c[3]-c[1]) + 6*v*u*(c[5]-c[3]) + 3*u*u*(c[7]-c[5]);
        var len = Math.sqrt(dx*dx + dy*dy) || 1, w = 1.5 * v + 0.25;
        left.push([x - dy / len * w, y + dx / len * w]);
        right.unshift([x + dy / len * w, y - dx / len * w]);
    }
    return { type: 'polygon', z: 15, shape: { points: left.concat(right) }, style: { fill: '#111' } };
}

var graphics = [
    { type: 'polygon', z: 1, shape: { points: [[0,0],[1600,0],[1600,214],[0,159]] }, style: { fill: DARK } },
    label('Frauenanteil im Parlament', 801, 109, { rotation: -0.034, color: '#fff', font: 'bold 100px ' + NARROW, sx: 0.73, sy: 1.02 }),
    label('2017, in Prozent', 801, 237, { rotation: -0.034, font: 'bold 48px ' + NARROW, sx: 0.79, sy: 1.02 })
];
calloutCurves.forEach(function (c) { graphics.push(pointer(c)); });

// legend gauges
var gaugeX = [553,873,1197], gaugeBase = [1375,1454], textX = [621,942,1266], textY = [1360,1438];
legendLabels.forEach(function (txt, i) {
    var col = i % 3, row = Math.floor(i / 3), color = legendColors[i], cx = gaugeX[col], cy = gaugeBase[row];
    graphics.push({ type: 'sector', z: 12, shape: { cx: cx, cy: cy, r: 35, r0: 15, startAngle: Math.PI, endAngle: Math.PI * 2, clockwise: true }, style: { fill: '#fff', stroke: color, lineWidth: 2 } });
    graphics.push({ type: 'sector', z: 13, shape: { cx: cx, cy: cy, r: 36, r0: 14, startAngle: Math.PI, endAngle: Math.PI * (1 + legendShares[i]), clockwise: true }, style: { fill: color } });
    graphics.push(label(txt, textX[col], textY[row], { color: color, align: 'left', font: 'bold 36px ' + NARROW, sx: 0.82, sy: 1.15 }));
});

// footer, logo
var footerY = [1541,1560,1580];
footerLines.forEach(function (txt, i) {
    graphics.push(label(txt, 1588, footerY[i], { align: 'right', font: '800 17px "Open Sans", sans-serif', sx: 0.98 }));
});
var ccX = [1384,1407,1430,1453], ccGlyph = ['cc','i','$','='];
ccX.forEach(function (x, i) {
    graphics.push({ type: 'circle', z: 20, shape: { cx: x, cy: 1580, r: 8.5 }, style: { fill: '#fff', stroke: DARK, lineWidth: 2 } });
    graphics.push(label(ccGlyph[i], x, 1580, { font: 'bold 10px "Open Sans", sans-serif' }));
});
graphics.push(label('K', 51, 1567, { align: 'left', color: GREEN, font: '800 53px "Open Sans", sans-serif', sx: 1.05 }));
graphics.push(label('ATAPULT', 87, 1567, { align: 'left', font: '800 53px "Open Sans", sans-serif', sx: 0.98 }));
graphics.push({ type: 'polygon', z: 20, shape: { points: [[19,1574],[39,1574],[29,1589]] }, style: { fill: DARK } });
graphics.push({ type: 'circle', z: 20, shape: { cx: 29, cy: 1563, r: 10 }, style: { fill: GREEN } });
graphics.push({ type: 'circle', z: 20, shape: { cx: 29, cy: 1554, r: 7 }, style: { fill: GREEN } });
graphics.push({ type: 'circle', z: 20, shape: { cx: 29, cy: 1547, r: 3.5 }, style: { fill: GREEN } });

var chart = echarts.init(document.getElementById('main'));
chart.setOption({
    animation: false,
    backgroundColor: '#fff',
    graphic: graphics,
    visualMap: {
        show: false, type: 'piecewise', seriesIndex: 0,
        pieces: [
            { min: 50, color: BLUE },
            { min: 40, max: 49.99, color: GREEN },
            { min: 30, max: 39.99, color: ORANGE },
            { min: 15, max: 29.99, color: RED },
            { min: 0, max: 14.99, color: DARK },
            { max: -0.5, color: GREY }
        ]
    },
    geo: {
        map: 'world', roam: false, silent: true,
        projection: { project: function (p) { return p; }, unproject: function (p) { return p; } },
        boundingCoords: [[0,0],[1600,1600]],
        layoutCenter: ['50%','50%'], layoutSize: 1600,
        itemStyle: { areaColor: '#fff', borderColor: '#fff', borderWidth: 0.7 },
        emphasis: { disabled: true }
    },
    series: [
        { type: 'map', geoIndex: 0, data: mapData, silent: true },
        {
            type: 'custom', coordinateSystem: 'geo', silent: true, z: 8,
            data: calloutNames.map(function (n, i) { return [calloutPos[i][0], calloutPos[i][1], calloutValues[i], calloutPos[i][2]]; }),
            renderItem: function (params, api) {
                var i = params.dataIndex, v = api.value(2), c = bandColor(v);
                var p = api.coord([api.value(0), api.value(1)]);
                var q = api.coord([api.value(0), api.value(3)]);
                return {
                    type: 'group',
                    children: [
                        { type: 'circle', shape: { cx: p[0], cy: p[1], r: 30.5 }, style: { fill: c } },
                        { type: 'text', x: p[0], y: p[1] + 2, scaleX: 0.73, scaleY: 1.22, style: { text: String(v), fill: '#fff', font: '33px ' + NARROW, textAlign: 'center', textVerticalAlign: 'middle' } },
                        { type: 'text', x: q[0], y: q[1] + 1, scaleX: 0.79, scaleY: 1.15, style: { text: calloutNames[i], fill: c, font: '26px ' + NARROW, textAlign: 'center', textVerticalAlign: 'middle' } }
                    ]
                };
            }
        }
    ]
});
</script>
</body>
</html>
